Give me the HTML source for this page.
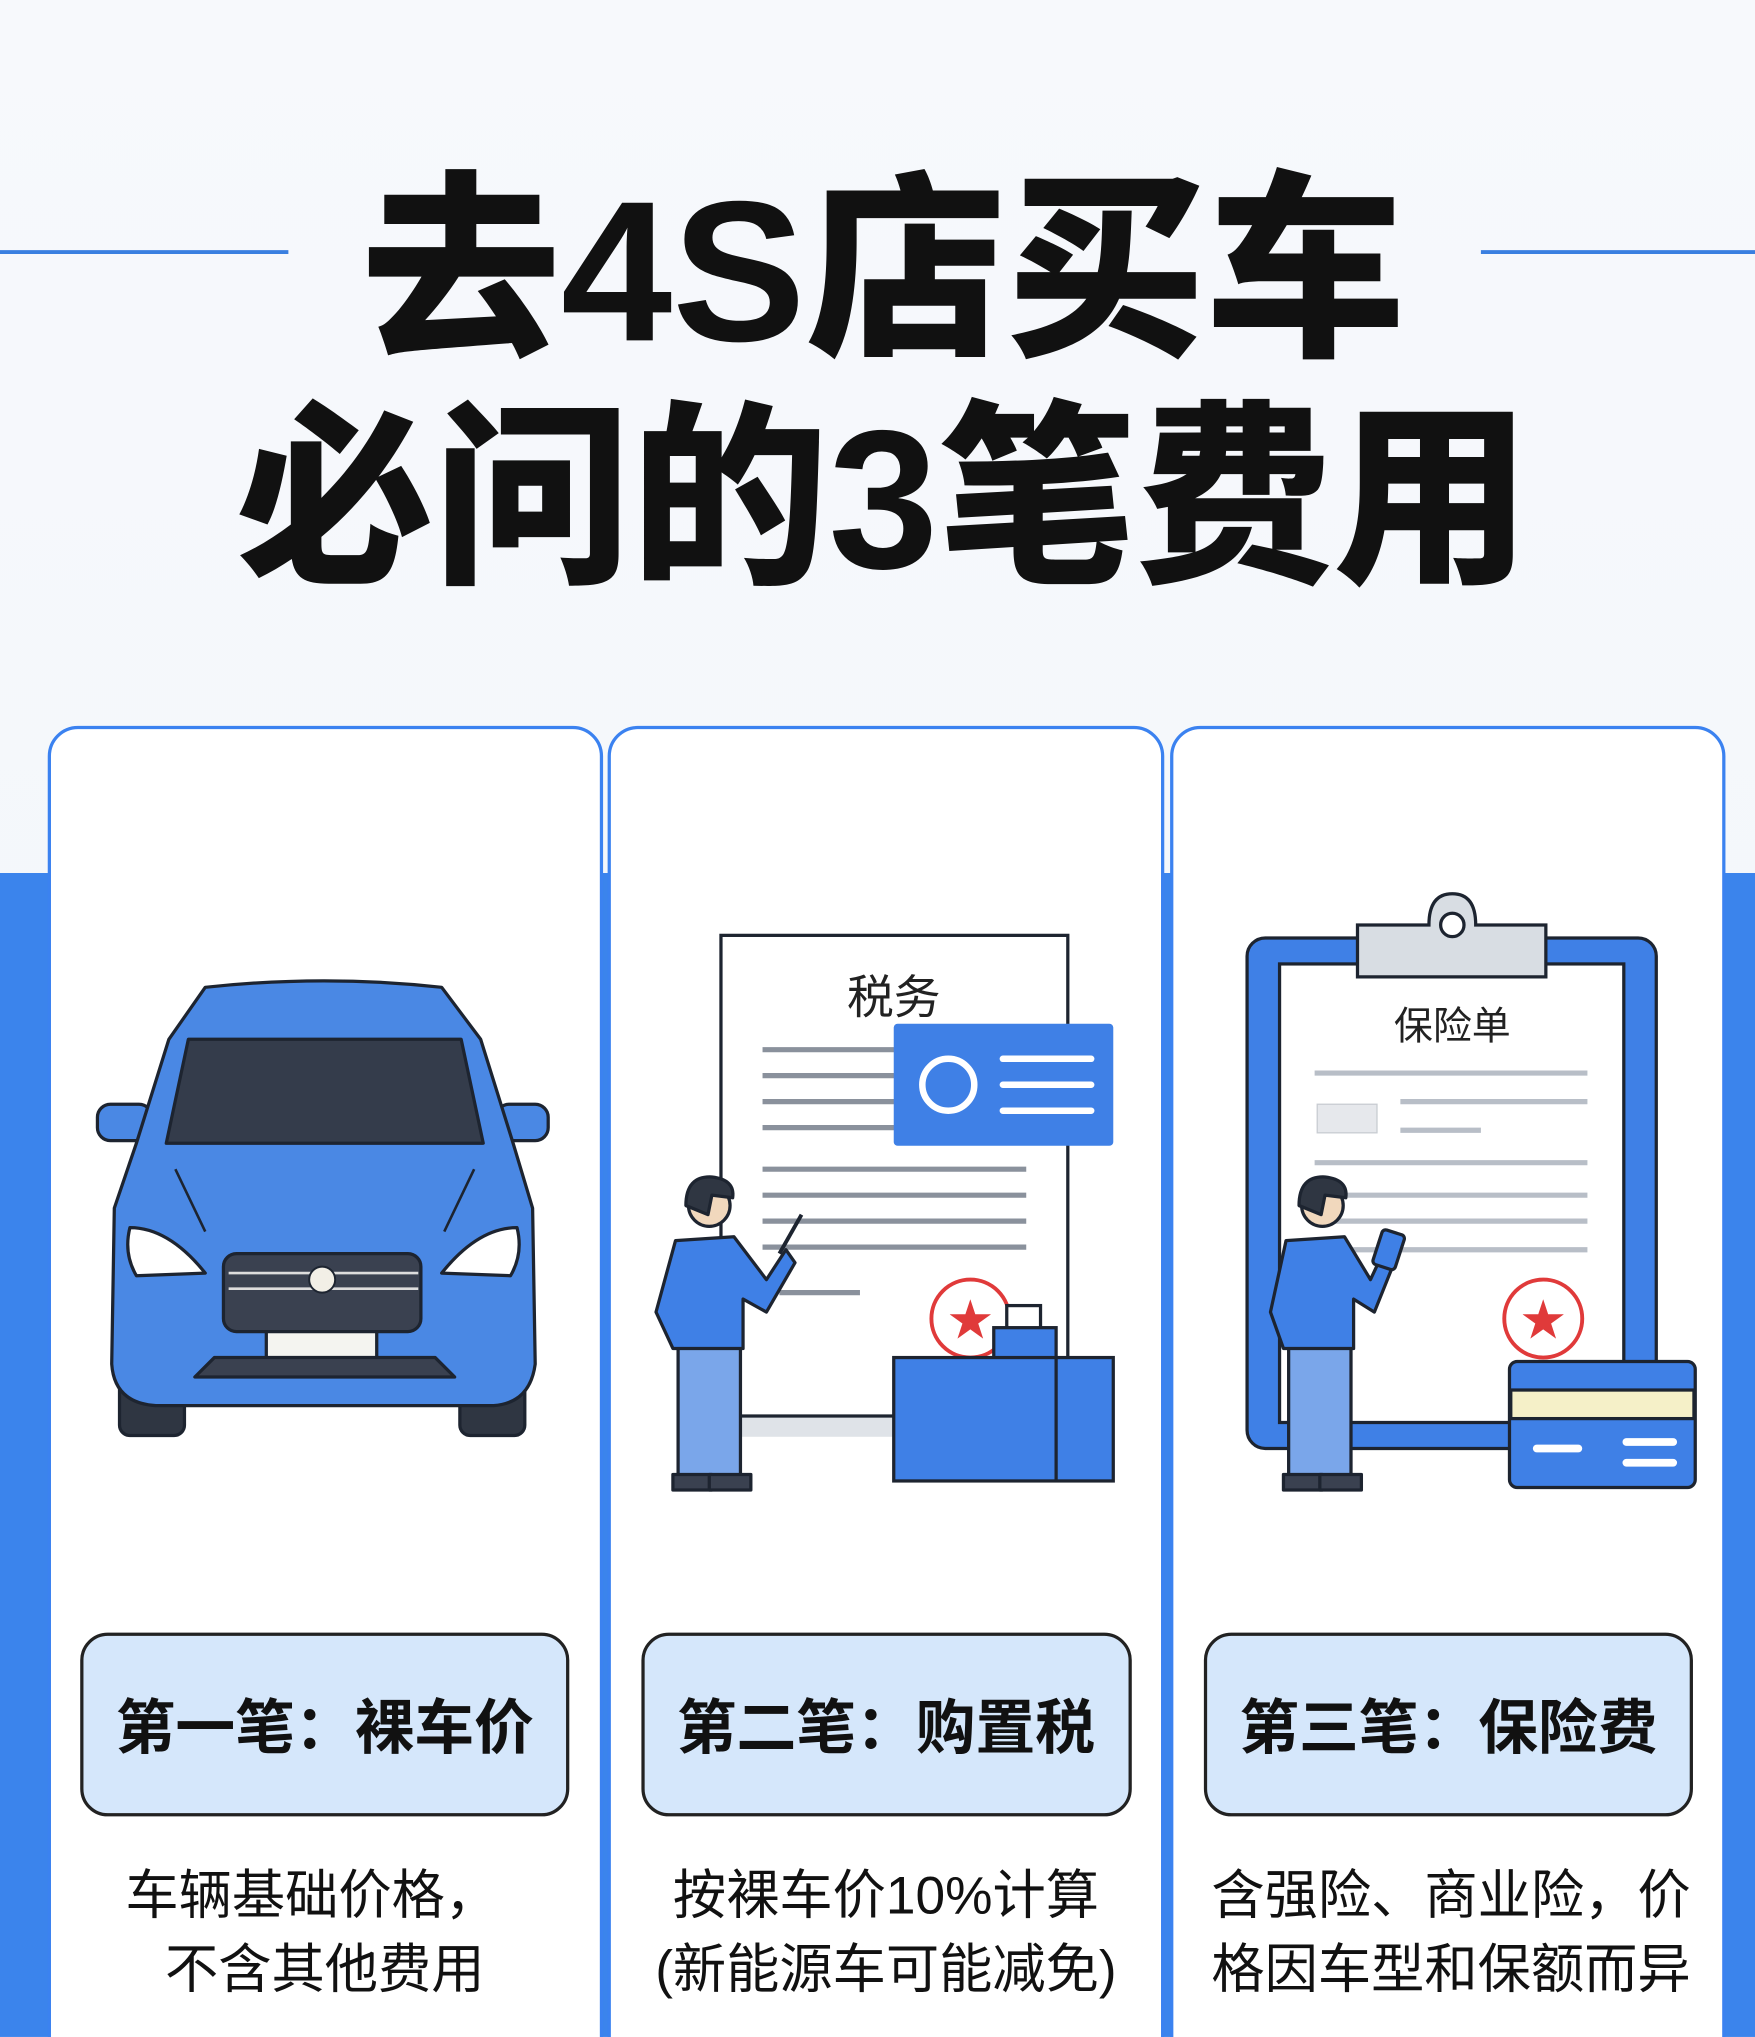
<!DOCTYPE html>
<html><head><meta charset="utf-8"><style>
html,body{margin:0;padding:0;background:#f4f7fb;width:1755px;height:2037px;overflow:hidden}
svg{display:block}
text{font-family:"Liberation Sans","Noto Sans CJK SC",sans-serif}
</style></head><body>
<svg width="1755" height="2037" viewBox="0 0 1351 1568" xmlns="http://www.w3.org/2000/svg">
<defs>
<linearGradient id="bg" x1="0" y1="0" x2="0" y2="1"><stop offset="0" stop-color="#f7f9fc"/><stop offset="1" stop-color="#f1f5fa"/></linearGradient>
</defs>
<rect width="1351" height="1568" fill="url(#bg)"/>
<rect x="0" y="672" width="1351" height="896" fill="#3b84ec"/>
<line x1="0" y1="194" x2="222" y2="194" stroke="#3a7fe0" stroke-width="3"/>
<line x1="1140" y1="194" x2="1351" y2="194" stroke="#3a7fe0" stroke-width="3"/>
<text x="680" y="262" text-anchor="middle" font-size="154" font-weight="900" fill="#111">去4S店买车</text>
<text x="680" y="437" text-anchor="middle" font-size="152" font-weight="900" fill="#111">必问的3笔费用</text>

<!-- cards -->
<rect x="38" y="560" width="425" height="1100" rx="22" fill="#fff" stroke="#3b82f0" stroke-width="2.5"/>
<rect x="469" y="560" width="426" height="1100" rx="22" fill="#fff" stroke="#3b82f0" stroke-width="2.5"/>
<rect x="902" y="560" width="425" height="1100" rx="22" fill="#fff" stroke="#3b82f0" stroke-width="2.5"/>

<!-- car -->
<g stroke="#1d2430" stroke-width="2.5" stroke-linejoin="round">
<rect x="92" y="1040" width="50" height="65" rx="8" fill="#2f3642"/>
<rect x="354" y="1040" width="50" height="65" rx="8" fill="#2f3642"/>
<rect x="75" y="850" width="42" height="28" rx="10" fill="#4a88e4"/>
<rect x="382" y="850" width="40" height="28" rx="10" fill="#4a88e4"/>
<path d="M158 760 Q250 750 340 760 L370 800 L395 880 L410 930 L412 1050 Q408 1080 380 1082 L120 1082 Q88 1080 86 1050 L88 930 L105 880 L130 800 Z" fill="#4a88e4"/>
<path d="M145 800 L355 800 L372 880 L128 880 Z" fill="#343c4b"/>
<path d="M100 945 Q130 945 158 980 L105 982 Q95 965 100 945Z" fill="#fff"/>
<path d="M398 945 Q368 945 340 980 L393 982 Q403 965 398 945Z" fill="#fff"/>
<rect x="172" y="965" width="152" height="60" rx="10" fill="#3a4150"/>
<rect x="205" y="1025" width="85" height="26" fill="#f4f4f0"/>
<path d="M150 1060 L350 1060 L335 1045 L165 1045Z" fill="#3a4150"/>
</g>
<line x1="176" y1="980" x2="322" y2="980" stroke="#ddd" stroke-width="2"/>
<line x1="176" y1="992" x2="322" y2="992" stroke="#ddd" stroke-width="2"/>
<circle cx="248" cy="985" r="10" fill="#f2efe6" stroke="#1d2430" stroke-width="1.5"/>
<path d="M135 900 L158 948 M365 900 L342 948" stroke="#1d2430" stroke-width="2" fill="none"/>

<!-- tax doc -->
<rect x="570" y="1090" width="120" height="16" fill="#dfe3e8"/>
<rect x="555" y="720" width="267" height="370" fill="#fff" stroke="#1d2430" stroke-width="2.5"/>
<text x="688" y="780" text-anchor="middle" font-size="36" fill="#222">税务</text>
<g stroke="#8a919c" stroke-width="4">
<line x1="587" y1="808" x2="690" y2="808"/><line x1="587" y1="828" x2="690" y2="828"/>
<line x1="587" y1="848" x2="690" y2="848"/><line x1="587" y1="868" x2="690" y2="868"/>
<line x1="587" y1="900" x2="790" y2="900"/><line x1="587" y1="920" x2="790" y2="920"/>
<line x1="587" y1="940" x2="790" y2="940"/><line x1="587" y1="960" x2="790" y2="960"/>
<line x1="600" y1="995" x2="662" y2="995"/>
</g>
<rect x="688" y="788" width="169" height="94" rx="3" fill="#3f80e6"/>
<circle cx="730" cy="835" r="20" fill="none" stroke="#fff" stroke-width="5"/>
<g stroke="#fff" stroke-width="5" stroke-linecap="round"><line x1="772" y1="815" x2="840" y2="815"/><line x1="772" y1="835" x2="840" y2="835"/><line x1="772" y1="855" x2="840" y2="855"/></g>
<circle cx="747" cy="1015" r="30" fill="#fff" stroke="#e03a3a" stroke-width="3"/>
<text x="747" y="1028" text-anchor="middle" font-size="34" fill="#e03a3a">★</text>
<g stroke="#1d2430" stroke-width="2.5">
<rect x="775" y="1005" width="26" height="18" fill="#fff"/>
<rect x="765" y="1022" width="48" height="26" fill="#3f80e6"/>
<rect x="688" y="1045" width="169" height="95" fill="#3f80e6"/>
<line x1="813" y1="1045" x2="813" y2="1140"/>
</g>
<!-- person 2 -->
<g stroke="#1d2430" stroke-width="2.5" stroke-linejoin="round">
<rect x="522" y="1035" width="48" height="105" fill="#7aa6ea"/>
<rect x="518" y="1135" width="30" height="12" fill="#3a4150"/><rect x="546" y="1135" width="32" height="12" fill="#3a4150"/>
<path d="M520 955 L565 952 L590 985 L605 962 L612 972 L590 1010 L572 1000 L572 1038 L518 1038 L505 1010Z" fill="#3f80e6"/>
<circle cx="546" cy="928" r="16" fill="#f1d8bd"/>
<path d="M528 928 Q528 905 548 906 Q566 908 564 922 L548 920 L545 935 Z" fill="#2f3642"/>
</g>
<line x1="600" y1="965" x2="617" y2="935" stroke="#1d2430" stroke-width="3"/>

<!-- clipboard -->
<g stroke="#1d2430" stroke-width="2.5">
<rect x="960" y="722" width="315" height="393" rx="14" fill="#3f80e6"/>
<rect x="985" y="742" width="265" height="353" fill="#fff"/>
<path d="M1045 712 L1100 712 Q1100 688 1118 688 Q1136 688 1136 712 L1190 712 L1190 752 L1045 752Z" fill="#d8dde3"/>
<circle cx="1118" cy="712" r="9" fill="#fff"/>
</g>
<text x="1118" y="800" text-anchor="middle" font-size="30" fill="#222">保险单</text>
<g stroke="#b8bec7" stroke-width="4">
<line x1="1012" y1="826" x2="1222" y2="826"/><line x1="1078" y1="848" x2="1222" y2="848"/>
<line x1="1078" y1="870" x2="1140" y2="870"/><line x1="1012" y1="895" x2="1222" y2="895"/>
<line x1="1012" y1="920" x2="1222" y2="920"/><line x1="1012" y1="940" x2="1222" y2="940"/>
<line x1="1012" y1="962" x2="1222" y2="962"/>
</g>
<rect x="1014" y="850" width="46" height="22" fill="#e6e8ec" stroke="#c8ccd2"/>
<circle cx="1188" cy="1015" r="30" fill="#fff" stroke="#e03a3a" stroke-width="3"/>
<text x="1188" y="1028" text-anchor="middle" font-size="34" fill="#e03a3a">★</text>
<g stroke="#1d2430" stroke-width="2.5">
<rect x="1162" y="1048" width="143" height="97" rx="6" fill="#3f80e6"/>
<rect x="1163" y="1070" width="141" height="22" fill="#f5f0c8"/>
</g>
<g stroke="#fff" stroke-width="6" stroke-linecap="round"><line x1="1183" y1="1115" x2="1215" y2="1115"/><line x1="1252" y1="1110" x2="1288" y2="1110"/><line x1="1252" y1="1126" x2="1288" y2="1126"/></g>
<!-- person 3 -->
<g stroke="#1d2430" stroke-width="2.5" stroke-linejoin="round">
<rect x="992" y="1035" width="48" height="105" fill="#7aa6ea"/>
<rect x="988" y="1135" width="30" height="12" fill="#3a4150"/><rect x="1016" y="1135" width="32" height="12" fill="#3a4150"/>
<path d="M990 955 L1035 952 L1055 985 L1062 970 L1072 975 L1058 1010 L1042 1000 L1042 1038 L988 1038 L978 1010Z" fill="#3f80e6"/>
<rect x="1060" y="948" width="18" height="28" rx="3" transform="rotate(18 1069 962)" fill="#3f80e6"/>
<circle cx="1018" cy="928" r="16" fill="#f1d8bd"/>
<path d="M1000 928 Q1000 905 1020 906 Q1038 908 1036 922 L1020 920 L1017 935 Z" fill="#2f3642"/>
</g>

<!-- labels -->
<g stroke="#222" stroke-width="2.5" fill="#d5e7fb">
<rect x="63" y="1258" width="374" height="139" rx="20"/>
<rect x="495" y="1258" width="375" height="139" rx="20"/>
<rect x="928" y="1258" width="374" height="139" rx="20"/>
</g>
<g font-size="46" font-weight="700" fill="#111" text-anchor="middle">
<text x="250" y="1346">第一笔：裸车价</text>
<text x="682" y="1346">第二笔：购置税</text>
<text x="1115" y="1346">第三笔：保险费</text>
</g>
<g font-size="41" fill="#111" text-anchor="middle">
<text x="240" y="1473">车辆基础价格，</text>
<text x="250" y="1530">不含其他费用</text>
<text x="682" y="1473">按裸车价10%计算</text>
<text x="682" y="1530">(新能源车可能减免)</text>
<text x="1117" y="1473">含强险、商业险，价</text>
<text x="1117" y="1530">格因车型和保额而异</text>
</g>
</svg>
</body></html>
